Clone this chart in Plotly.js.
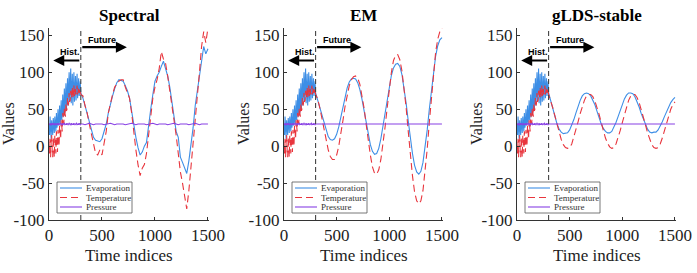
<!DOCTYPE html>
<html>
<head>
<meta charset="utf-8">
<script src="https://cdn.plot.ly/plotly-3.0.1.min.js"></script>
<style>
  html, body { margin: 0; padding: 0; background: #fff; }
  #chart { width: 697px; height: 273px; }
</style>
</head>
<body>
<div id="chart"></div>
<script>
// Observed history (t = 0..300, every 5 steps), shared by all three models
const histT = [0,5,10,15,20,25,30,35,40,45,50,55,60,65,70,75,80,85,90,95,100,105,110,115,120,125,130,135,140,145,150,155,160,165,170,175,180,185,190,195,200,205,210,215,220,225,230,235,240,245,250,255,260,265,270,275,280,285,290,295,300];
const histEvap = [30,15,40,20,10,35,25,15,38,22,18,40,28,20,45,25,30,50,28,35,55,30,40,62,35,45,70,40,55,78,45,60,85,50,65,92,55,70,100,60,75,105,58,80,98,55,85,100,60,88,95,62,90,98,65,85,92,68,80,88,72];
const histTemp = [5,-10,10,-15,5,15,-5,-15,12,0,-15,15,5,-10,20,5,-8,22,10,0,28,15,10,35,22,20,45,32,30,52,40,40,58,48,50,65,55,58,72,60,62,75,65,68,80,65,70,82,68,72,80,70,75,82,70,78,80,72,76,78,70];
const histPres = [30,29,31,30,28,31,30,29,31,30,29,30,31,29,30,30,29,31,30,29,30,31,30,29,30,31,29,30,30,31,29,30,30,29,31,30,29,30,31,30,29,30,31,29,30,30,29,31,30,29,30,30,31,29,30,30,29,31,30,29,30];

// Forecast horizon (t = 300..1500, every 20 steps)
const futT = [300,320,340,360,380,400,420,440,460,480,500,520,540,560,580,600,620,640,660,680,700,720,740,760,780,800,820,840,860,880,900,920,940,960,980,1000,1020,1040,1060,1080,1100,1120,1140,1160,1180,1200,1220,1240,1260,1280,1300,1320,1340,1360,1380,1400,1420,1440,1460,1480,1500];

// Spectral forecast
const spectralEvap = [72,65,55,45,35,22,12,8,7,6,10,20,30,45,58,68,78,86,90,89,88,82,75,65,45,28,12,-2,-12,-8,0,5,30,50,70,88,95,100,108,115,105,95,80,60,40,20,12,-15,-22,-30,-37,-20,0,25,55,75,92,110,135,125,132];
const spectralTemp = [70,68,55,45,30,18,5,-10,-12,-5,-12,2,20,45,60,70,80,85,88,90,90,80,72,65,45,15,-5,-25,-40,-30,-25,-10,15,40,65,80,90,105,128,118,112,95,75,55,38,15,-10,-35,-50,-65,-85,-60,-30,0,40,65,100,135,155,140,160];
const spectralPres = [30,30,29,30,31,30,29,30,30,31,30,29,30,30,31,30,29,30,30,31,30,29,30,30,31,30,29,30,30,31,30,29,30,30,31,30,29,30,30,31,30,29,30,30,31,30,29,30,30,31,30,29,30,30,31,30,29,30,30,31,30];

// EM forecast
const emEvap = [70,62,52,42,30,20,13,9,8,10,16,26,40,54,68,79,87,91,92,91,86,77,64,48,32,16,2,-7,-11,-10,-3,10,27,46,65,82,96,106,111,112,108,97,80,58,34,10,-10,-26,-35,-38,-34,-22,-3,22,50,77,102,122,136,144,147];
const emTemp = [70,64,52,38,22,8,-5,-14,-18,-18,-12,0,16,35,54,70,82,90,94,95,92,84,70,52,30,8,-12,-28,-37,-38,-32,-18,2,26,52,78,100,116,123,124,117,102,80,52,20,-12,-40,-62,-74,-78,-74,-60,-36,-4,32,68,100,127,145,155,160];
const emPres = [30,30,30,30,30,30,30,30,30,30,30,30,30,30,30,30,30,30,30,30,30,30,30,30,30,30,30,30,30,30,30,30,30,30,30,30,30,30,30,30,30,30,30,30,30,30,30,30,30,30,30,30,30,30,30,30,30,30,30,30,30];

// gLDS-stable forecast
const gldsEvap = [72,62,50,39,30,23,19,17,17,18,22,28,36,45,54,62,68,71,72,71,68,63,56,47,38,30,24,20,18,18,20,25,32,40,49,57,64,69,72,72,71,67,61,53,44,36,28,23,19,18,19,19,22,27,33,40,47,54,59,63,66];
const gldsTemp = [68,62,52,41,30,19,9,2,-2,-3,-2,3,12,22,33,44,54,62,68,70,70,67,61,53,43,32,21,11,4,-1,-3,-2,3,11,21,32,43,53,62,68,70,70,66,59,50,40,29,18,9,2,-2,-3,-2,3,11,21,31,41,50,56,60];
const gldsPres = [30,30,30,30,30,30,30,30,30,30,30,30,30,30,30,30,30,30,30,30,30,30,30,30,30,30,30,30,30,30,30,30,30,30,30,30,30,30,30,30,30,30,30,30,30,30,30,30,30,30,30,30,30,30,30,30,30,30,30,30,30];

const panelTitles = ['Spectral', 'EM', 'gLDS-stable'];
const seriesNames = ['Evaporation', 'Temperature', 'Pressure'];
const xTickVals = [0, 500, 1000, 1500];
const yTickVals = [-100, -50, 0, 50, 100, 150];
const splitT = 300;

const forecasts = [
  [spectralEvap, spectralTemp, spectralPres],
  [emEvap, emTemp, emPres],
  [gldsEvap, gldsTemp, gldsPres]
];
const histories = [histEvap, histTemp, histPres];

const W = 697, H = 273;
const colors = ['#3d8ee6', '#e8353d', '#8840e4'];
const dashes = ['solid', '7px,4px', 'solid'];

// plot-area left/right edges in pixels for each panel
const panelPx = [[49, 209], [284, 443], [517, 676]];
const yTopPx = 28, yBotPx = 220;
const yRange = [-100, 160];
const xRange = [0, 1510];

const serif = '"Liberation Serif", "Times New Roman", Times, serif';
const sans = '"Liberation Sans", Arial, Helvetica, sans-serif';

const traces = [];
const shapes = [];
const annotations = [];
const layout = {
  width: W, height: H,
  margin: {l: 0, r: 0, t: 0, b: 0},
  paper_bgcolor: '#fff', plot_bgcolor: '#fff',
  showlegend: false,
  font: {family: serif, color: '#222'}
};

forecasts.forEach((fc, p) => {
  const sfx = p === 0 ? '' : String(p + 1);
  const xa = 'x' + sfx, ya = 'y' + sfx;
  const [l, r] = panelPx[p];

  layout['xaxis' + sfx] = {
    domain: [l / W, r / W], range: xRange, anchor: ya,
    showgrid: false, zeroline: false,
    showline: true, linecolor: '#333', linewidth: 1,
    ticks: 'inside', ticklen: 3, tickcolor: '#333',
    tickvals: xTickVals, ticktext: xTickVals.map(String),
    tickfont: {family: serif, size: 17, color: '#222'}
  };
  layout['yaxis' + sfx] = {
    domain: [1 - yBotPx / H, 1 - yTopPx / H], range: yRange, anchor: xa,
    showgrid: false, zeroline: false,
    showline: true, linecolor: '#333', linewidth: 1,
    ticks: 'inside', ticklen: 3, tickcolor: '#333',
    tickvals: yTickVals, ticktext: yTickVals.map(String),
    tickfont: {family: serif, size: 17, color: '#222'}
  };

  // history + forecast for each variable, drawn as one continuous line
  for (let s = 0; s < 3; s++) {
    traces.push({
      type: 'scatter', mode: 'lines',
      name: seriesNames[s],
      x: histT.concat(futT.slice(1)),
      y: histories[s].concat(fc[s].slice(1)),
      xaxis: xa, yaxis: ya,
      line: {color: colors[s], width: 1.1, dash: dashes[s]},
      showlegend: false, hoverinfo: 'skip'
    });
  }

  // split between observed history and forecast
  shapes.push({
    type: 'line', xref: xa, yref: ya,
    x0: splitT, x1: splitT, y0: yRange[0], y1: yRange[1],
    line: {color: '#444', width: 1.1, dash: '5px,3px'}
  });

  // Hist. / Future arrows
  annotations.push({
    xref: xa, yref: ya, axref: xa, ayref: ya,
    x: 40, y: 116, ax: splitT, ay: 116,
    text: '', showarrow: true, arrowhead: 2, arrowsize: 1, arrowwidth: 2.2, arrowcolor: '#000'
  });
  annotations.push({
    xref: xa, yref: ya, axref: xa, ayref: ya,
    x: 735, y: 134, ax: splitT, ay: 134,
    text: '', showarrow: true, arrowhead: 2, arrowsize: 1, arrowwidth: 2.2, arrowcolor: '#000'
  });
  annotations.push({
    xref: xa, yref: ya, x: 200, y: 127, text: '<b>Hist.</b>', showarrow: false,
    font: {family: sans, size: 9, color: '#000'}
  });
  annotations.push({
    xref: xa, yref: ya, x: 500, y: 144, text: '<b>Future</b>', showarrow: false,
    font: {family: sans, size: 9, color: '#000'}
  });

  // panel title
  annotations.push({
    xref: 'paper', yref: 'paper', x: (l + r) / 2 / W, y: 1 - 15 / H,
    text: '<b>' + panelTitles[p] + '</b>', showarrow: false,
    xanchor: 'center', yanchor: 'middle',
    font: {family: serif, size: 17, color: '#000'}
  });
  // axis titles
  annotations.push({
    xref: 'paper', yref: 'paper', x: (l + r) / 2 / W, y: 1 - 255 / H,
    text: 'Time indices', showarrow: false, xanchor: 'center', yanchor: 'middle',
    font: {family: serif, size: 17, color: '#222'}
  });
  annotations.push({
    xref: 'paper', yref: 'paper', x: (l - 40) / W, y: 1 - 124 / H,
    text: 'Values', showarrow: false, textangle: -90, xanchor: 'center', yanchor: 'middle',
    font: {family: serif, size: 16, color: '#222'}
  });

  // legend box in the lower-left corner of each panel
  const bx0 = l + 8, bx1 = l + 83, by0 = 182, by1 = 213;
  shapes.push({
    type: 'rect', xref: 'paper', yref: 'paper',
    x0: bx0 / W, x1: bx1 / W, y0: 1 - by1 / H, y1: 1 - by0 / H,
    line: {color: '#555', width: 0.8}, fillcolor: '#fff', layer: 'above'
  });
  for (let s = 0; s < 3; s++) {
    const yy = 188 + s * 9.5;
    shapes.push({
      type: 'line', xref: 'paper', yref: 'paper',
      x0: (bx0 + 3) / W, x1: (bx0 + 25) / W, y0: 1 - yy / H, y1: 1 - yy / H,
      line: {color: colors[s], width: 1.1, dash: dashes[s]}, layer: 'above'
    });
    annotations.push({
      xref: 'paper', yref: 'paper', x: (bx0 + 27) / W, y: 1 - yy / H,
      text: seriesNames[s], showarrow: false, xanchor: 'left', yanchor: 'middle',
      font: {family: serif, size: 9, color: '#333'}
    });
  }
});

layout.shapes = shapes;
layout.annotations = annotations;

Plotly.newPlot('chart', traces, layout, {staticPlot: true, displayModeBar: false});
</script>
</body>
</html>
